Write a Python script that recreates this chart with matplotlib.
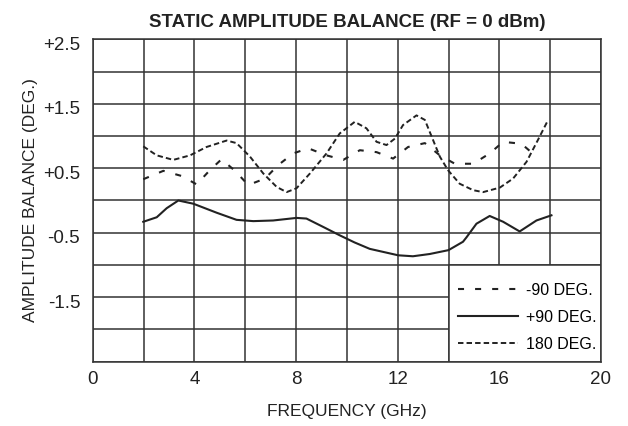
import matplotlib
matplotlib.use('Agg')
import matplotlib.pyplot as plt
import matplotlib.transforms as mtransforms
from matplotlib.patches import Rectangle

plt.rcParams['font.family'] = ['Liberation Sans', 'DejaVu Sans']

# -90 DEG (long dashes)
x_m90 = [1.99, 2.78, 3.5, 4.09, 4.61, 5.07, 5.6, 6.12, 6.78, 7.3, 7.89, 8.48, 9.2, 9.86,
         10.51, 11.17, 11.82, 12.41, 13.07, 13.66, 14.25, 14.97, 15.62, 16.15, 16.87, 17.46]
y_m90 = [0.33, 0.46, 0.38, 0.25, 0.47, 0.64, 0.46, 0.24, 0.34, 0.55, 0.73, 0.81, 0.70, 0.63,
         0.78, 0.75, 0.65, 0.83, 0.89, 0.70, 0.57, 0.57, 0.73, 0.91, 0.88, 0.68]

# +90 DEG (solid)
x_p90 = [1.99, 2.52, 2.91, 3.37, 3.96, 4.88, 5.66, 6.32, 7.1, 8.02, 8.41, 9.07, 9.72, 10.3,
         10.9, 12.02, 12.6, 13.26, 14.0, 14.57, 14.71, 15.1, 15.62, 16.15, 16.8, 17.46, 18.05]
y_p90 = [-0.33, -0.26, -0.12, 0.0, -0.05, -0.19, -0.30, -0.32, -0.31, -0.27, -0.28, -0.41,
         -0.54, -0.65, -0.75, -0.85, -0.865, -0.83, -0.77, -0.64, -0.57, -0.36, -0.24, -0.33,
         -0.48, -0.31, -0.23]

# 180 DEG (short dashes)
x_180 = [1.99, 2.52, 3.17, 3.83, 4.48, 5.27, 5.66, 6.19, 6.71, 7.24, 7.63, 8.02, 8.55, 9.2,
         9.72, 10.31, 10.77, 11.17, 11.56, 11.89, 12.21, 12.74, 13.07, 13.39, 13.66, 13.98,
         14.44, 14.97, 15.36, 16.02, 16.54, 17.07, 17.52, 17.92]
y_180 = [0.84, 0.70, 0.63, 0.70, 0.83, 0.93, 0.89, 0.68, 0.42, 0.21, 0.13, 0.19, 0.42, 0.73,
         1.04, 1.22, 1.12, 0.91, 0.86, 0.96, 1.17, 1.32, 1.25, 0.94, 0.68, 0.47, 0.26, 0.16,
         0.13, 0.20, 0.34, 0.60, 0.94, 1.25]

x_ticks = [0, 4, 8, 12, 16, 20]
y_ticks = [2.5, 2.0, 1.5, 1.0, 0.5, 0.0, -0.5, -1.0, -1.5, -2.0, -2.5]
y_labels = ['+2.5', '', '+1.5', '', '+0.5', '', '-0.5', '', '-1.5', '', '']

ink = '#222222'

fig = plt.figure(figsize=(6.28, 4.26), dpi=100)
ax = fig.add_axes([0.1476, 0.151, 0.8094, 0.7567])

ax.set_xlim(0, 20)
ax.set_ylim(-2.5, 2.5)
ax.set_xticks(range(0, 21, 2))
ax.set_xticklabels([str(v) if v in x_ticks else '' for v in range(0, 21, 2)])
ax.set_yticks(y_ticks)
ax.set_yticklabels(y_labels)
ax.tick_params(length=0, labelsize=13.5, colors=ink)
ax.tick_params(axis='x', pad=7)
ax.tick_params(axis='y', pad=9)
# labels in the original sit a little below their grid lines
shift = mtransforms.ScaledTranslation(0, -4 / 100, fig.dpi_scale_trans)
for lbl in ax.get_yticklabels():
    lbl.set_transform(lbl.get_transform() + shift)

ax.grid(True, color='#333333', linewidth=1.1)
ax.set_axisbelow(True)
for s in ax.spines.values():
    s.set_color('#333333')
    s.set_linewidth(1.1)

ax.plot(x_m90, y_m90, color=ink, lw=1.5, linestyle=(0, (2.9, 5.3)), label='-90 DEG.')
ax.plot(x_p90, y_p90, color=ink, lw=1.5, linestyle='-', label='+90 DEG.')
ax.plot(x_180, y_180, color=ink, lw=1.4, linestyle=(0, (2.8, 1.6)), label='180 DEG.')

# legend box covers the grid in the lower right corner
ax.add_patch(Rectangle((14, -2.5), 6, 1.5, facecolor='white', edgecolor='#333333',
                       linewidth=1.1, zorder=1.5))
leg = ax.legend(loc='lower right', bbox_to_anchor=(1.0, 0.016), frameon=False,
                fontsize=11.5, handlelength=3.75, borderpad=0.1, borderaxespad=0.2,
                labelspacing=0.75, handletextpad=0.45)

ax.set_xlabel('FREQUENCY (GHz)', fontsize=12.5, labelpad=11, color=ink)
ax.set_ylabel('AMPLITUDE BALANCE (DEG.)', fontsize=12.5, labelpad=4, color=ink)
ax.set_title('STATIC AMPLITUDE BALANCE (RF = 0 dBm)', fontsize=13.5, fontweight='bold',
             pad=9, color=ink)

fig.savefig('out.png', dpi=100)
